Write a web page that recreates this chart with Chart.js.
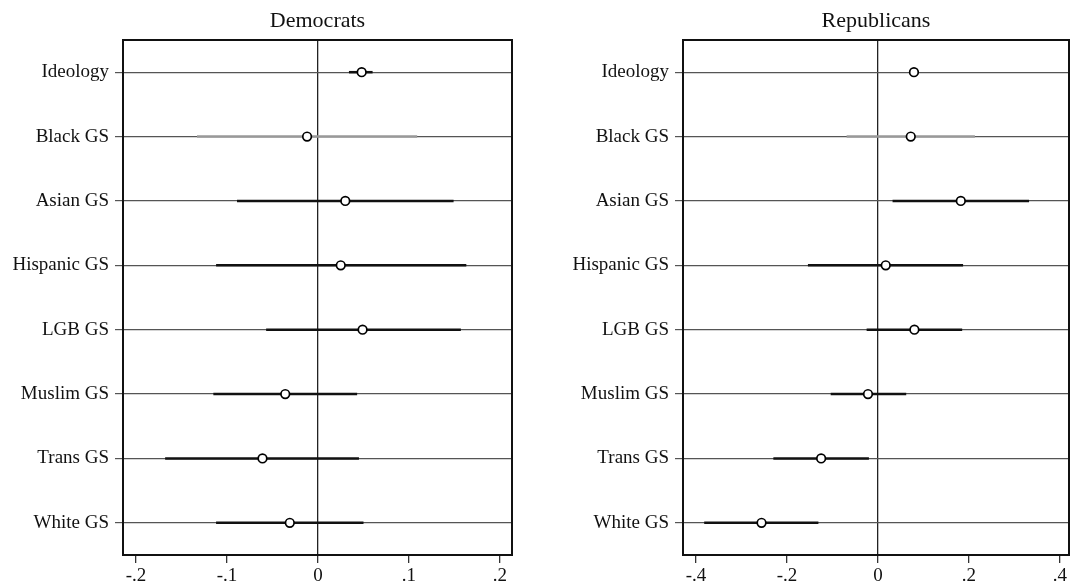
<!DOCTYPE html>
<html>
<head>
<meta charset="utf-8">
<script src="https://cdn.jsdelivr.net/npm/chart.js@4"></script>
<style>
html, body { margin: 0; padding: 0; background: #fff; overflow: hidden; }
#wrap { position: relative; width: 1070px; height: 588px; overflow: hidden; }
.panel { position: absolute; top: 0; height: 588px; }
#demPanel { left: 0; width: 540px; }
#repPanel { left: 560px; width: 510px; }
</style>
</head>
<body>
<div id="wrap">
    <div class="panel" id="demPanel"><canvas id="demChart"></canvas></div>
    <div class="panel" id="repPanel"><canvas id="repChart"></canvas></div>
</div>
<script>
// Rows, top to bottom
const categories = ['Ideology', 'Black GS', 'Asian GS', 'Hispanic GS', 'LGB GS', 'Muslim GS', 'Trans GS', 'White GS'];

// Democrats: point estimates and confidence bounds
const demEstimates = [0.048, -0.012, 0.030, 0.025, 0.049, -0.036, -0.061, -0.031];
const demLower = [0.034, -0.133, -0.089, -0.112, -0.057, -0.115, -0.168, -0.112];
const demUpper = [0.060, 0.109, 0.149, 0.163, 0.157, 0.043, 0.045, 0.050];

// Republicans
const repEstimates = [0.079, 0.072, 0.182, 0.017, 0.080, -0.022, -0.125, -0.256];
const repLower = [0.070, -0.069, 0.032, -0.154, -0.025, -0.104, -0.230, -0.382];
const repUpper = [0.090, 0.213, 0.332, 0.187, 0.185, 0.062, -0.020, -0.131];

// Axis ticks
const demTicks = [-0.2, -0.1, 0, 0.1, 0.2];
const demTickLabels = ['-.2', '-.1', '0', '.1', '.2'];
const repTicks = [-0.4, -0.2, 0, 0.2, 0.4];
const repTickLabels = ['-.4', '-.2', '0', '.2', '.4'];

// rows whose interval is drawn in grey
const mutedRows = ['Black GS'];

const FONT = "'Liberation Serif', 'Times New Roman', serif";

// cadre autour de la zone de tracé + titre centré sur la zone
const framePlugin = {
    id: 'frame',
    afterDatasetsDraw(chart, args, opts) {
        const { ctx, chartArea: a } = chart;
        ctx.save();
        ctx.strokeStyle = '#111';
        ctx.lineWidth = 2;
        ctx.strokeRect(Math.round(a.left), Math.round(a.top), Math.round(a.right - a.left), Math.round(a.bottom - a.top));
        ctx.fillStyle = '#111';
        ctx.font = '22px ' + FONT;
        ctx.textAlign = 'center';
        ctx.textBaseline = 'middle';
        ctx.fillText(opts.text, (a.left + a.right) / 2, 21);
        ctx.restore();
    }
};

function buildPanel(canvasId, title, est, lo, hi, xMin, xMax, ticks, tickLabels, padRight) {
    const datasets = [];

    categories.forEach((cat, i) => {
        const color = mutedRows.includes(cat) ? '#999' : '#111';
        datasets.push({
            data: [{ x: lo[i], y: i + 1 }, { x: hi[i], y: i + 1 }],
            showLine: true,
            borderColor: color,
            borderWidth: 2.5,
            pointRadius: 0,
            order: 2
        });
    });

    datasets.push({
        data: est.map((v, i) => ({ x: v, y: i + 1 })),
        showLine: false,
        pointStyle: 'circle',
        pointRadius: 4.3,
        pointBorderWidth: 1.7,
        pointBorderColor: '#000',
        pointBackgroundColor: '#fff',
        order: 0
    });

    new Chart(document.getElementById(canvasId), {
        type: 'scatter',
        data: { datasets: datasets },
        options: {
            responsive: true,
            maintainAspectRatio: false,
            animation: false,
            events: [],
            layout: { autoPadding: false, padding: { left: 0, right: padRight, top: 40, bottom: 0 } },
            plugins: {
                legend: { display: false },
                tooltip: { enabled: false },
                title: { display: false },
                frame: { text: title }
            },
            scales: {
                x: {
                    type: 'linear',
                    min: xMin,
                    max: xMax,
                    afterBuildTicks: scale => { scale.ticks = ticks.map(v => ({ value: v })); },
                    afterFit: scale => {
                        scale.height = 33;
                        scale.paddingLeft = 0;
                        scale.paddingRight = 0;
                    },
                    border: { display: false },
                    grid: {
                        color: c => (c.tick && c.tick.value === 0 ? '#222' : 'rgba(0,0,0,0)'),
                        tickColor: '#333',
                        lineWidth: 1.3,
                        drawTicks: true,
                        tickLength: 8
                    },
                    ticks: {
                        color: '#111',
                        padding: 2,
                        maxRotation: 0,
                        autoSkip: false,
                        font: { family: FONT, size: 19 },
                        callback: value => {
                            const k = ticks.findIndex(t => Math.abs(t - value) < 1e-9);
                            return k >= 0 ? tickLabels[k] : '';
                        }
                    }
                },
                y: {
                    type: 'linear',
                    reverse: true,
                    min: 0.5,
                    max: 8.5,
                    afterBuildTicks: scale => { scale.ticks = categories.map((c, i) => ({ value: i + 1 })); },
                    afterFit: scale => {
                        scale.width = 123;
                        scale.paddingTop = 0;
                        scale.paddingBottom = 0;
                    },
                    border: { display: false },
                    grid: {
                        color: '#555',
                        tickColor: '#555',
                        lineWidth: 1.2,
                        drawTicks: true,
                        tickLength: 8
                    },
                    ticks: {
                        color: '#111',
                        padding: 6,
                        autoSkip: false,
                        font: { family: FONT, size: 19 },
                        callback: value => categories[Math.round(value) - 1] || ''
                    }
                }
            }
        },
        plugins: [framePlugin]
    });
}

buildPanel('demChart', 'Democrats', demEstimates, demLower, demUpper, -0.2143, 0.2132, demTicks, demTickLabels, 28);
buildPanel('repChart', 'Republicans', repEstimates, repLower, repUpper, -0.4286, 0.4198, repTicks, repTickLabels, 1);
</script>
</body>
</html>
